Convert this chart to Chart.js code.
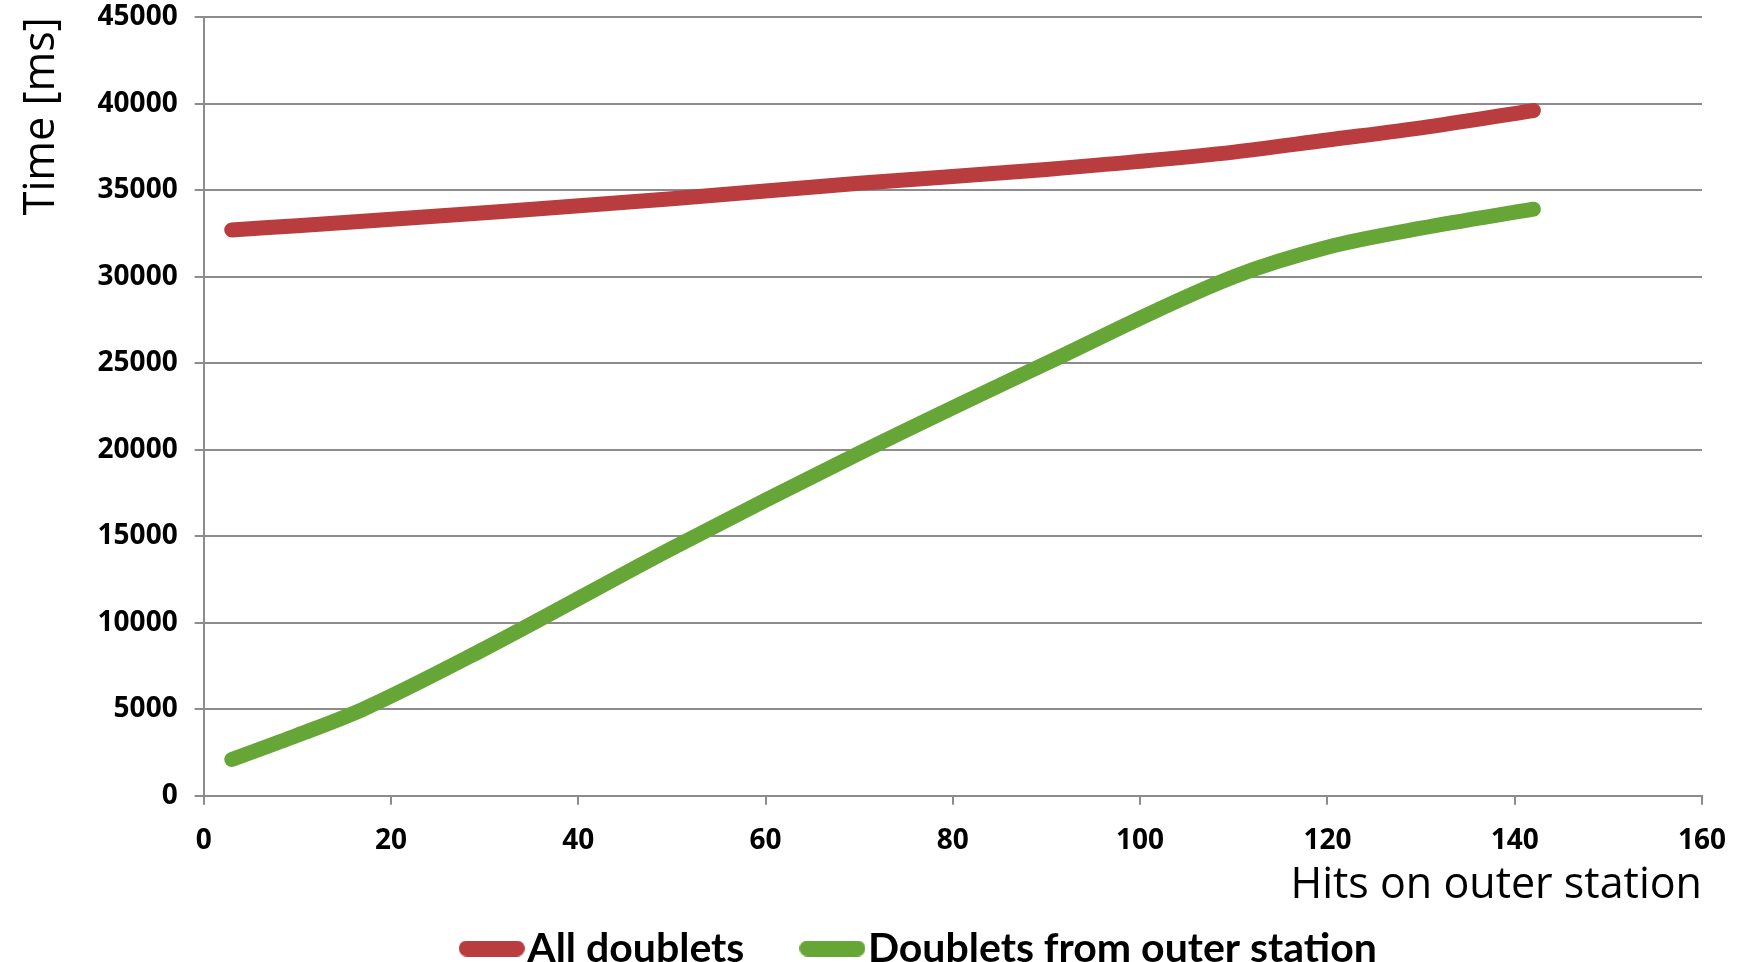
<!DOCTYPE html>
<html lang="en">
  <head>
    <meta charset="utf-8" />
    <style>
      * {
        margin: 0;
        padding: 0;
      }
      body {
        overflow: hidden;
        background: #fff;
      }
      .chartBox {
        width: 1745px;
        height: 979px;
      }
    </style>
  </head>
  <body>
    <div class="chartBox">
      <canvas id="myChart"></canvas>
    </div>
    <script src="https://cdn.jsdelivr.net/npm/chart.js/dist/chart.umd.min.js"></script>
    <script>
      // data
      const hits = [3, 10, 17, 30, 50, 70, 90, 110, 120, 130, 142];
      const allDoublets = [32700, 32950, 33200, 33700, 34500, 35400, 36200, 37200, 37900, 38600, 39600];
      const outerDoublets = [2100, 3500, 5000, 8500, 14300, 19800, 25000, 30000, 31700, 32800, 33900];
      const seriesNames = ["All doublets", "Doublets from outer station"];
      const seriesColors = ["#b93c3e", "#66a636"];

      const gridColor = "#8c8c8c";
      const lineWidth = 15;
      const xTickFont = { family: "'Open Sans', sans-serif", size: 28, weight: "bold" };
      const yTickFont = { family: "'Open Sans', sans-serif", size: 28, weight: "bold", lineHeight: 0.01 };
      const titleFont = { family: "'Open Sans', sans-serif", size: 43, weight: "normal" };

      const legendRowPad = 16; // space above the legend row
      const legendItemGap = 73; // space between legend items
      const legendOffsetX = -26;

      // rounded bar used as legend swatch
      function makeSwatch(color) {
        const c = document.createElement("canvas");
        c.width = 66;
        c.height = 16;
        const g = c.getContext("2d");
        g.fillStyle = color;
        g.beginPath();
        g.roundRect(0, 0, 66, 16, 8);
        g.fill();
        return c;
      }

      const toPoints = (ys) => hits.map((x, i) => ({ x: x, y: ys[i] }));

      const data = {
        datasets: seriesNames.map((name, i) => ({
          label: name,
          data: toPoints(i === 0 ? allDoublets : outerDoublets),
          borderColor: seriesColors[i],
          backgroundColor: seriesColors[i],
          borderWidth: lineWidth,
          borderCapStyle: "round",
          pointStyle: makeSwatch(seriesColors[i]),
        })),
      };

      // Chart.js uses one padding for both directions in the legend,
      // so widen the item gap only for drawing and move the box to match
      const legendSpacing = {
        id: "legendSpacing",
        afterLayout(chart) {
          const legend = chart.legend;
          const extra = legendItemGap - legendRowPad;
          legend.options.labels.padding = legendItemGap;
          legend.top -= extra;
          legend.left += legendOffsetX - extra;
          legend.right += legendOffsetX - extra;
        },
      };

      const config = {
        type: "line",
        data,
        plugins: [legendSpacing],
        options: {
          responsive: true,
          maintainAspectRatio: false,
          animation: false,
          devicePixelRatio: 1,
          layout: { padding: { left: 16, right: 42, top: 0, bottom: 0 } },
          elements: {
            point: { radius: 0 },
            line: {
              borderJoinStyle: "round",
              cubicInterpolationMode: "monotone",
            },
          },
          scales: {
            x: {
              type: "linear",
              min: 0,
              max: 160,
              ticks: { stepSize: 20, color: "#000", font: xTickFont, padding: 19, callback: (v) => String(v) },
              grid: { drawOnChartArea: false, color: gridColor, lineWidth: 2, tickLength: 9 },
              border: { color: gridColor, width: 2 },
              title: {
                display: true,
                text: "Hits on outer station",
                align: "end",
                color: "#000",
                font: titleFont,
                padding: { top: -16, bottom: 0 },
              },
            },
            y: {
              min: 0,
              max: 45000,
              ticks: { stepSize: 5000, color: "#000", font: yTickFont, padding: 17, callback: (v) => String(v) },
              grid: { color: gridColor, lineWidth: 2, tickLength: 9 },
              border: { color: gridColor, width: 2 },
              title: {
                display: true,
                text: "Time [ms]",
                align: "end",
                color: "#000",
                font: titleFont,
                padding: { top: 0, bottom: 13 },
              },
            },
          },
          plugins: {
            tooltip: { enabled: false },
            legend: {
              position: "bottom",
              fullSize: false,
              labels: {
                color: "#000",
                usePointStyle: true,
                pointStyleWidth: 30,
                padding: legendRowPad,
                font: { family: "Lato, 'Open Sans', sans-serif", size: 41, weight: "bold" },
              },
            },
          },
        },
      };

      const myChart = new Chart(document.getElementById("myChart"), config);
    </script>
  </body>
</html>
